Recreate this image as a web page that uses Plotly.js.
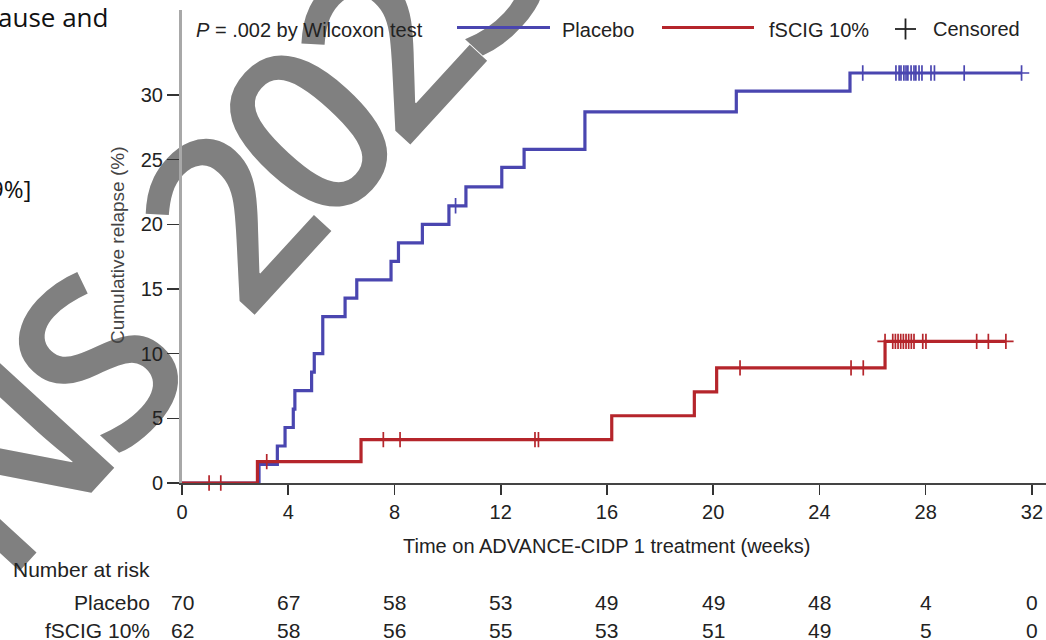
<!DOCTYPE html>
<html>
<head>
<meta charset="utf-8">
<script src="https://cdn.plot.ly/plotly-3.0.1.min.js"></script>
<style>
  html, body { margin: 0; padding: 0; background: #ffffff; }
  #chart { width: 1046px; height: 640px; }
</style>
</head>
<body>
<div id="chart"></div>
<script>
// ---------- data ----------
const placeboTime = [0, 2.9, 3.59, 3.88, 4.19, 4.25, 4.88, 4.98, 5.30, 6.14, 6.58, 7.87, 8.15, 9.05, 10.05, 10.69, 12.04, 12.88, 15.17, 20.87, 25.15, 31.61];
const placeboPct  = [0, 1.43, 2.86, 4.29, 5.71, 7.14, 8.57, 10.0, 12.86, 14.29, 15.71, 17.14, 18.57, 20.0, 21.43, 22.9, 24.4, 25.8, 28.7, 30.3, 31.7, 31.7];
const placeboCensored = [10.30, 25.63, 26.88, 27.0, 27.07, 27.18, 27.26, 27.33, 27.45, 27.56, 27.63, 27.75, 27.86, 28.2, 28.33, 29.45, 31.61];

const fscigTime = [0, 2.84, 6.74, 16.18, 19.29, 20.13, 26.47, 31.02];
const fscigPct  = [0, 1.65, 3.35, 5.2, 7.05, 8.9, 10.95, 10.95];
const fscigCensored = [1.02, 1.46, 3.19, 7.58, 8.21, 13.29, 13.42, 21.01, 25.19, 25.65, 26.47, 26.76, 26.86, 26.96, 27.06, 27.16, 27.26, 27.36, 27.46, 27.56, 27.89, 28.01, 29.92, 30.36, 31.02];

const riskTimes   = [0, 4, 8, 12, 16, 20, 24, 28, 32];
const riskPlacebo = [70, 67, 58, 53, 49, 49, 48, 4, 0];
const riskFscig   = [62, 58, 56, 55, 53, 51, 49, 5, 0];

const xTicks = [0, 4, 8, 12, 16, 20, 24, 28, 32];
const yTicks = [0, 5, 10, 15, 20, 25, 30];

const seriesNames = ['Placebo', 'fSCIG 10%'];
// ---------------------------------------------------

const BLUE = '#4a46b0';
const RED = '#b5252b';
const FONT = 'Liberation Sans, Arial, sans-serif';

function levelAt(times, vals, t) {
  let v = vals[0];
  for (let i = 0; i < times.length; i++) { if (times[i] <= t + 1e-9) v = vals[i]; }
  return v;
}

const traces = [
  { x: placeboTime, y: placeboPct, mode: 'lines', line: { shape: 'hv', color: BLUE, width: 3.2 }, name: seriesNames[0], showlegend: false, cliponaxis: false },
  { x: placeboCensored, y: placeboCensored.map(t => levelAt(placeboTime, placeboPct, t)), mode: 'markers',
    marker: { symbol: 'cross-thin', size: 11, line: { color: BLUE, width: 1.7 } }, showlegend: false, cliponaxis: false },
  { x: fscigTime, y: fscigPct, mode: 'lines', line: { shape: 'hv', color: RED, width: 3.2 }, name: seriesNames[1], showlegend: false, cliponaxis: false },
  { x: fscigCensored, y: fscigCensored.map(t => levelAt(fscigTime, fscigPct, t)), mode: 'markers',
    marker: { symbol: 'cross-thin', size: 11, line: { color: RED, width: 1.7 } }, showlegend: false, cliponaxis: false }
];

// pixel helpers (plot area: left 182, top 10, width 864, height 473)
const L = 182, T = 10, W = 864, H = 473;
const px = v => (v - L) / W;
const py = v => (T + H - v) / H;

const annotations = [];
// watermark (index 0; moved under the axes after drawing)
annotations.push({ xref: 'paper', yref: 'paper', x: px(172), y: py(270), text: 'PNS\u00a0 2023', showarrow: false,
  textangle: -47.5, font: { family: 'Open Sans, Noto Sans, sans-serif', size: 235, weight: 600, color: '#808080' }, xanchor: 'center', yanchor: 'middle' });

// slide fragments at the left
annotations.push({ xref: 'paper', yref: 'paper', x: px(110), y: py(17), text: 'ause and', showarrow: false, xanchor: 'right', yanchor: 'middle',
  font: { family: 'Open Sans, Noto Sans, sans-serif', size: 26, color: '#111' } });
annotations.push({ xref: 'paper', yref: 'paper', x: px(33), y: py(188), text: '9%]', showarrow: false, xanchor: 'right', yanchor: 'middle',
  font: { family: 'Open Sans, Noto Sans, sans-serif', size: 24, color: '#111' } });

// y axis title
annotations.push({ xref: 'paper', yref: 'paper', x: px(117), y: py(246), text: 'Cumulative relapse (%)', showarrow: false, textangle: -90,
  xanchor: 'center', yanchor: 'middle', font: { family: FONT, size: 19, color: '#444' } });
// x axis title
annotations.push({ xref: 'paper', yref: 'paper', x: px(607), y: py(546), text: 'Time on ADVANCE-CIDP 1 treatment (weeks)', showarrow: false,
  xanchor: 'center', yanchor: 'middle', font: { family: FONT, size: 20, color: '#222' } });

// P value + legend texts
annotations.push({ xref: 'paper', yref: 'paper', x: px(194), y: py(30), text: '<i>P</i> = .002 by Wilcoxon test', showarrow: false,
  xanchor: 'left', yanchor: 'middle', font: { family: FONT, size: 20, color: '#222' } });
annotations.push({ xref: 'paper', yref: 'paper', x: px(560), y: py(30), text: seriesNames[0], showarrow: false,
  xanchor: 'left', yanchor: 'middle', font: { family: FONT, size: 20, color: '#222' } });
annotations.push({ xref: 'paper', yref: 'paper', x: px(767), y: py(30), text: seriesNames[1], showarrow: false,
  xanchor: 'left', yanchor: 'middle', font: { family: FONT, size: 20, color: '#222' } });
annotations.push({ xref: 'paper', yref: 'paper', x: px(931), y: py(29), text: 'Censored', showarrow: false,
  xanchor: 'left', yanchor: 'middle', font: { family: FONT, size: 20, color: '#222' } });

// risk table
annotations.push({ xref: 'paper', yref: 'paper', x: px(11), y: py(569), text: 'Number at risk', showarrow: false,
  xanchor: 'left', yanchor: 'middle', font: { family: FONT, size: 21, color: '#222' } });
annotations.push({ xref: 'paper', yref: 'paper', x: px(152), y: py(602), text: seriesNames[0], showarrow: false,
  xanchor: 'right', yanchor: 'middle', font: { family: FONT, size: 21, color: '#222' } });
annotations.push({ xref: 'paper', yref: 'paper', x: px(152), y: py(630), text: seriesNames[1], showarrow: false,
  xanchor: 'right', yanchor: 'middle', font: { family: FONT, size: 21, color: '#222' } });
riskTimes.forEach((t, i) => {
  annotations.push({ xref: 'x', yref: 'paper', x: t, y: py(602), text: String(riskPlacebo[i]), showarrow: false,
    xanchor: 'center', yanchor: 'middle', font: { family: FONT, size: 21, color: '#222' } });
  annotations.push({ xref: 'x', yref: 'paper', x: t, y: py(630), text: String(riskFscig[i]), showarrow: false,
    xanchor: 'center', yanchor: 'middle', font: { family: FONT, size: 21, color: '#222' } });
});

const shapes = [
  { type: 'line', xref: 'paper', yref: 'paper', x0: px(457), x1: px(550), y0: py(27.5), y1: py(27.5), line: { color: BLUE, width: 3 } },
  { type: 'line', xref: 'paper', yref: 'paper', x0: px(662), x1: px(754), y0: py(27.5), y1: py(27.5), line: { color: RED, width: 3 } },
  { type: 'line', xref: 'paper', yref: 'paper', x0: px(895), x1: px(916), y0: py(29), y1: py(29), line: { color: '#222', width: 1.8 } },
  { type: 'line', xref: 'paper', yref: 'paper', x0: px(905.5), x1: px(905.5), y0: py(18.5), y1: py(39.5), line: { color: '#222', width: 1.8 } }
];

const layout = {
  width: 1046, height: 640,
  margin: { l: L, r: 1046 - L - W, t: T, b: 640 - T - H, pad: 0 },
  paper_bgcolor: '#ffffff', plot_bgcolor: '#ffffff',
  showlegend: false,
  font: { family: FONT, size: 20, color: '#222' },
  xaxis: {
    range: [0, 32.53], tickvals: xTicks, ticktext: xTicks.map(String),
    showgrid: false, zeroline: false, showline: true, linecolor: '#444', linewidth: 2,
    ticks: 'outside', ticklen: 10, tickwidth: 1.6, tickcolor: '#333',
    tickfont: { family: FONT, size: 20, color: '#222' }, fixedrange: true
  },
  yaxis: {
    range: [0, 36.57], tickvals: yTicks, ticktext: yTicks.map(String),
    showgrid: false, zeroline: false, showline: true, linecolor: '#a8a8a8', linewidth: 3,
    ticks: 'outside', ticklen: 12, tickwidth: 1.6, tickcolor: '#333',
    tickfont: { family: FONT, size: 20, color: '#222' }, fixedrange: true
  },
  annotations: annotations,
  shapes: shapes
};

Plotly.newPlot('chart', traces, layout, { staticPlot: true, displayModeBar: false }).then(gd => {
  // put the watermark beneath the axes so tick labels stay readable, as in the reference
  const svg = gd.querySelector('.main-svg');
  const wm = gd.querySelector('.infolayer .annotation[data-index="0"]');
  const cart = svg && svg.querySelector('.cartesianlayer');
  if (wm) {
    const t = wm.querySelector('text');
    if (t) { t.setAttribute('letter-spacing', '-19'); t.setAttribute('xml:space', 'preserve'); }
  }
  if (svg && wm && cart) svg.insertBefore(wm, cart);
});
</script>
</body>
</html>
